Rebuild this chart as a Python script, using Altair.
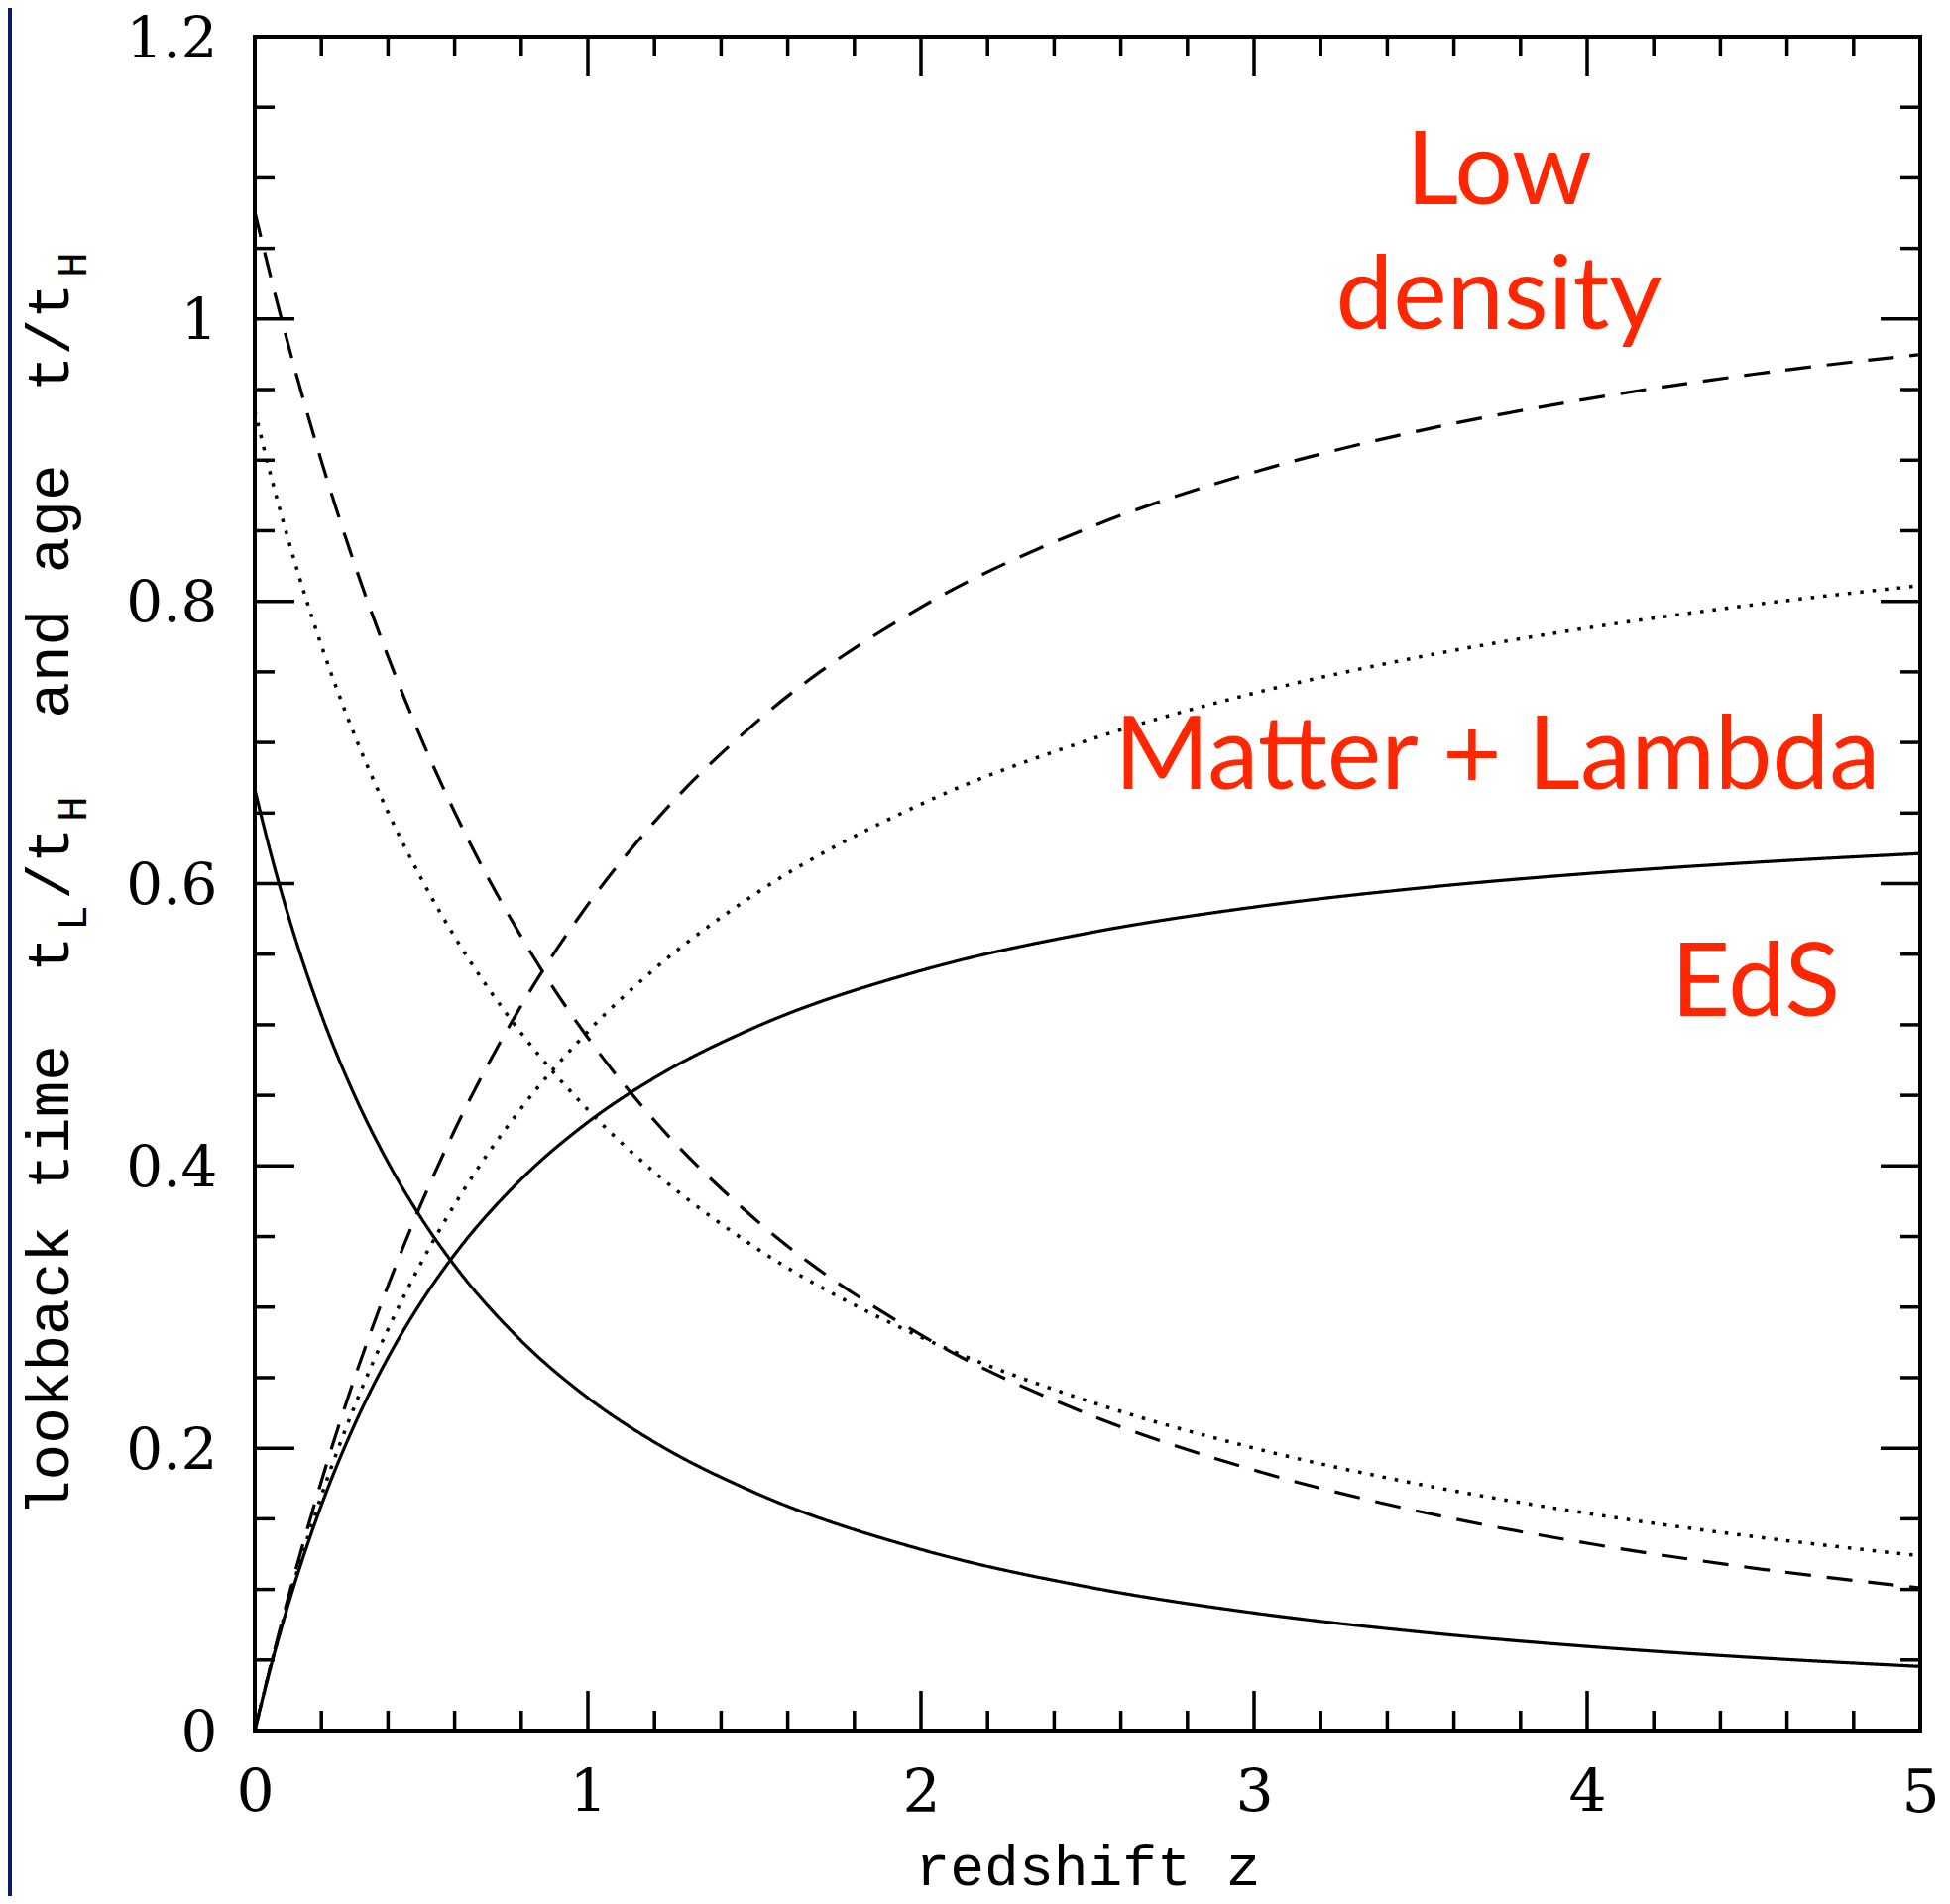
import altair as alt
import pandas as pd

# ---------------- data ----------------
z = [0, 0.05, 0.1, 0.2, 0.3, 0.4, 0.5, 0.6, 0.8, 1.0, 1.2, 1.5, 2.0, 2.5, 3.0, 3.5, 4.0, 4.5, 5.0]

# solid (EdS)
eds_lookback = [0, 0.0471, 0.0889, 0.1596, 0.2169, 0.2642, 0.3038, 0.3373, 0.3906, 0.4310,
                0.4624, 0.4980, 0.5384, 0.5649, 0.5834, 0.5969, 0.6071, 0.6150, 0.6213]
eds_age = [0.6667, 0.6196, 0.5778, 0.5071, 0.4498, 0.4025, 0.3629, 0.3294, 0.2761, 0.2357,
           0.2043, 0.1687, 0.1283, 0.1018, 0.0833, 0.0698, 0.0596, 0.0517, 0.0454]
# dashed
dash_lookback = [0, 0.0484, 0.0938, 0.1766, 0.2500, 0.3152, 0.3734, 0.4253, 0.5136, 0.5852,
                 0.6438, 0.7133, 0.7958, 0.8517, 0.8915, 0.9210, 0.9433, 0.9609, 0.9749]
dash_age = [1.0760, 1.0276, 0.9822, 0.8994, 0.8260, 0.7608, 0.7026, 0.6507, 0.5624, 0.4908,
            0.4322, 0.3627, 0.2802, 0.2243, 0.1845, 0.1550, 0.1327, 0.1151, 0.1011]
# dotted
dot_lookback = [0, 0.0476, 0.0908, 0.1663, 0.2300, 0.2844, 0.3315, 0.3726, 0.4409, 0.4952,
                0.5395, 0.5923, 0.6563, 0.7014, 0.7349, 0.7607, 0.7811, 0.7976, 0.8112]
dot_age = [0.9350, 0.8874, 0.8442, 0.7687, 0.7050, 0.6506, 0.6035, 0.5624, 0.4941, 0.4398,
           0.3955, 0.3427, 0.2787, 0.2336, 0.2001, 0.1743, 0.1539, 0.1374, 0.1238]

# tick positions / labels
x_major = [0, 1, 2, 3, 4, 5]
x_minor = [round(i * 0.2, 2) for i in range(26) if i % 5 != 0]
y_major = [0, 0.2, 0.4, 0.6, 0.8, 1.0, 1.2]
y_minor = [round(i * 0.05, 2) for i in range(25) if i % 4 != 0]

# annotations
ann_labels = ["Low", "density", "Matter + Lambda", "EdS"]
ann_z = [3.735, 3.735, 3.73, 4.506]
ann_v = [1.081, 0.993, 0.667, 0.506]

# ---------------- layout ----------------
W, H = 1680, 1709
MAJ, MIN = 40, 20
TICK_W = 3.5


def series_df(lb, ag):
    rows = []
    for zi, a in zip(z, lb):
        rows.append({"z": zi, "v": a, "series": "lookback"})
    for zi, a in zip(z, ag):
        rows.append({"z": zi, "v": a, "series": "age"})
    return pd.DataFrame(rows)


X = alt.X(
    "z:Q",
    scale=alt.Scale(domain=[0, 5], nice=False, zero=False),
    axis=alt.Axis(
        values=x_major,
        format="d",
        title="redshift z",
        titleFont="Liberation Mono",
        titleFontSize=58,
        titleFontWeight="normal",
        titleColor="black",
        titlePadding=16,
        labelFont="DejaVu Serif",
        labelFontSize=60,
        labelColor="black",
        labelPadding=34,
        labelFlush=False,
        ticks=False,
        tickSize=0,
        domain=False,
        grid=False,
    ),
)

Y = alt.Y(
    "v:Q",
    scale=alt.Scale(domain=[0, 1.2], nice=False),
    axis=alt.Axis(
        values=y_major,
        format=".1~f",
        title="",
        labelFont="DejaVu Serif",
        labelFontSize=58,
        labelColor="black",
        labelPadding=38,
        labelOffset=3,
        labelFlush=False,
        ticks=False,
        tickSize=0,
        domain=False,
        grid=False,
    ),
)

layers = []

# curves
line_styles = [
    (series_df(eds_lookback, eds_age), [1, 0], 3.2),
    (series_df(dash_lookback, dash_age), [26, 16], 3.2),
    (series_df(dot_lookback, dot_age), [3.5, 9], 3.5),
]
for df, dash, sw in line_styles:
    layers.append(
        alt.Chart(df)
        .mark_line(interpolate="monotone", color="black", strokeWidth=sw, strokeDash=dash)
        .encode(x=X, y=Y, detail="series:N")
    )

# inward ticks on all four sides
def xticks(vals, length):
    d = pd.DataFrame({"z": vals})
    bottom = alt.Chart(d).mark_rule(color="black", strokeWidth=TICK_W).encode(
        x=X, y=alt.value(H), y2=alt.value(H - length)
    )
    top = alt.Chart(d).mark_rule(color="black", strokeWidth=TICK_W).encode(
        x=X, y=alt.value(0), y2=alt.value(length)
    )
    return [bottom, top]


def yticks(vals, length):
    d = pd.DataFrame({"v": vals})
    left = alt.Chart(d).mark_rule(color="black", strokeWidth=TICK_W).encode(
        y=Y, x=alt.value(0), x2=alt.value(length)
    )
    right = alt.Chart(d).mark_rule(color="black", strokeWidth=TICK_W).encode(
        y=Y, x=alt.value(W), x2=alt.value(W - length)
    )
    return [left, right]


layers += xticks(x_major, MAJ) + xticks(x_minor, MIN)
layers += yticks(y_major, MAJ) + yticks(y_minor, MIN)

# red annotations
ann_df = pd.DataFrame({"label": ann_labels, "z": ann_z, "v": ann_v})
layers.append(
    alt.Chart(ann_df)
    .mark_text(font="Lato", fontSize=103, color="#ff2600", align="center", baseline="alphabetic")
    .encode(x=X, y=Y, text="label:N")
)

# y-axis title (rotated, with subscripts)
NB = "\u00a0"
ytitle = "lookback" + NB + "time" + NB * 2 + "t" + NB + "/t" + NB * 3 + "and" + NB + "age" + NB * 2 + "t/t" + NB
ytitle_df = pd.DataFrame({"t": [ytitle]})
layers.append(
    alt.Chart(ytitle_df)
    .mark_text(font="Liberation Mono", fontSize=61, color="black", angle=270,
               align="left", baseline="alphabetic")
    .encode(text="t:N", x=alt.value(-188), y=alt.value(1493))
)
sub_df = pd.DataFrame({"s": ["L", "H", "H"], "py": [889, 779, 230]})
layers.append(
    alt.Chart(sub_df)
    .mark_text(font="Liberation Mono", fontSize=43, color="black", angle=270,
               align="center", baseline="alphabetic")
    .encode(text="s:N", x=alt.value(-170), y=alt.Y("py:Q", scale=None, axis=None))
)

# dark border strip at the left edge of the slide
layers.append(
    alt.Chart(pd.DataFrame({"a": [0]}))
    .mark_rect(color="#0d1a66")
    .encode(x=alt.value(-249), x2=alt.value(-245), y=alt.value(-29), y2=alt.value(1884))
)

chart = (
    alt.layer(*layers)
    .properties(
        width=W,
        height=H,
        autosize=alt.AutoSizeParams(type="none"),
        padding={"left": 249, "top": 29, "right": 22, "bottom": 167},
        background="white",
    )
    .configure_view(stroke="black", strokeWidth=4)
)

chart.save("out.html", embed_options={"renderer": "svg", "actions": False})
